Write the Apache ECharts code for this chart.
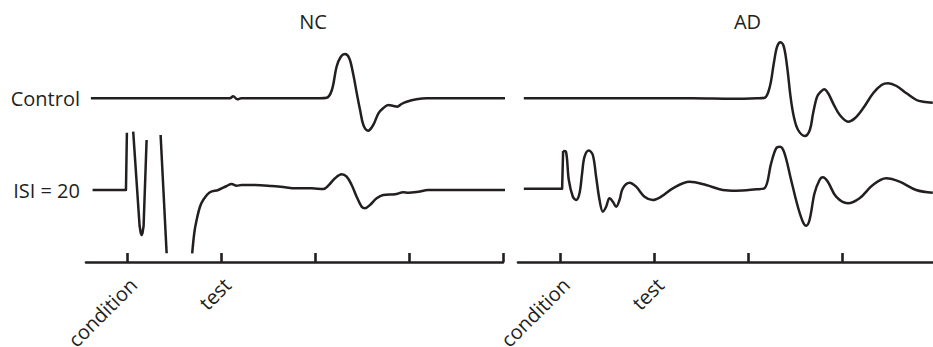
<!DOCTYPE html>
<html>
<head>
<meta charset="utf-8">
<script src="https://cdn.jsdelivr.net/npm/echarts@6/dist/echarts.min.js"></script>
<style>
html,body{margin:0;padding:0;background:#ffffff;}
#c{width:933px;height:347px;}
</style>
</head>
<body>
<div id="c"></div>
<script>
// ---- data (time in ms from conditioning stimulus, amplitude in arbitrary units) ----
const panelTitles = ['NC', 'AD'];
const rowLabels = ['Control', 'ISI = 20'];
const tickValues = [0, 20, 40, 60, 80];
const labelValues = [0, 20];
const tickLabels = ['condition', 'test'];

const ncControl = [[-7.66,0],[20.5,0],[21.9,0],[22.6,0.2],[23.5,-0.1],[24.3,0],[25.5,0],[41,0],[42.5,0.05],
  [43.6,0.83],[44.6,3.16],[45.5,4.16],[46.4,4.43],[47.3,4.0],[48.1,2.5],[48.9,0.5],[49.6,-1.17],[50.3,-2.67],
  [51.3,-3.24],[52.4,-2.67],[53.5,-1.5],[54.5,-1.0],[55.6,-0.67],[56.7,-0.77],[57.5,-0.84],[58.4,-0.57],
  [59.5,-0.34],[61.6,-0.1],[63.8,0],[66,0],[81.3,0]];

const ncIsiArtifact = [[-7.3,0],[-0.2,0],[0,5.73], null,
  [1.34,5.83],[2.7,-3.6],[2.95,-4.3],[3.13,-4.5],[3.32,-4.3],[3.55,-3.6],[4.19,5.0], null,
  [7.17,5.5],[8.45,-6.33]];

const ncIsi = [[13.89,-6.33],[14.36,-4.2],[14.83,-3.0],[15.53,-1.7],[16.23,-1.0],[17.66,-0.23],[19.43,0],
  [21.21,0.4],[22.28,0.6],[23.34,0.43],[24.4,0.5],[27.23,0.5],[30.79,0.4],[33.62,0.27],[35.74,0.17],[39.3,0.17],
  [41.77,0.1],[42.83,0.43],[44.26,1.17],[45.68,1.57],[46.74,1.33],[47.81,0.5],[48.87,-0.67],[49.94,-1.67],
  [50.64,-1.83],[51.7,-1.5],[53.13,-0.83],[54.53,-0.5],[57.02,-0.43],[58.79,-0.23],[59.85,-0.27],[61.98,-0.17],
  [64.1,0],[66.96,0],[81.64,0]];

const adControl = [[-7.66,0],[28.3,0],[36.8,-0.05],[42,0],[43.6,0.06],[44.68,1.16],[45.53,3.5],[46.23,5.16],
  [46.96,5.6],[47.66,5.16],[48.36,3.16],[49.09,0.16],[49.79,-1.84],[50.7,-3.17],[52.13,-3.77],[53.19,-3.17],
  [53.89,-1.5],[54.74,0.16],[55.53,0.66],[56.23,0.9],[57.09,0.5],[58.15,-0.5],[59.57,-1.67],[61.34,-2.34],
  [62.77,-2.0],[64.53,-1.0],[66.66,0.5],[68.45,1.33],[69.85,1.5],[71.64,1.23],[73.77,0.5],[75.89,-0.17],
  [77.3,-0.34],[79.36,-0.44]];

const adIsiArtifact = [[-7.66,0.13],[0.49,0.13],[0.7,3.9]];

const adIsi = [[0.7,3.9],[1.28,3.85],[1.91,1.0],[2.77,-0.67],[3.47,-1.0],[4.19,-0.33],[4.74,1.67],[5.26,3.33],
  [6.17,3.95],[7.02,3.5],[7.72,1.33],[8.45,-1.0],[9.15,-2.17],[9.85,-1.67],[10.57,-0.83],[11.28,-1.17],
  [11.98,-1.67],[12.7,-1.0],[13.4,0.17],[14.83,0.73],[16.23,0.33],[18.02,-0.67],[19.79,-1.0],[21.55,-0.67],
  [24.04,0.17],[27.6,0.83],[31.13,0.5],[34.68,0],[37.51,-0.07],[41.77,0.07],[43.55,0.17],[44.96,2.67],
  [46.02,4.17],[46.87,4.33],[47.81,3.67],[49.21,1.0],[50.64,-1.67],[51.7,-3.17],[52.4,-3.57],[53.13,-3.0],
  [54.19,-0.33],[55.26,1.0],[55.96,1.27],[57.02,0.83],[58.79,-0.67],[61.28,-1.33],[63.77,-0.83],[66.6,0.5],
  [69.43,1.17],[72.28,0.83],[75.81,0],[79.36,-0.27]];

// ---- layout / style ----
const INK = '#231f20';
const FONT = '"Open Sans", "Noto Sans", sans-serif';
const LW = 2.5;

const xRanges = [{min: -8.7, max: 80}, {min: -8.9, max: 79.4}];
const panelBox = [{left: 86, width: 417}, {left: 518, width: 415}];
const rowBox = [{top: 38.3, height: 120, min: -6, max: 6}, {top: 118, height: 144, min: -7.2, max: 7.2}];

const grids = [], xAxes = [], yAxes = [];
for (let p = 0; p < 2; p++) {
  for (let r = 0; r < 2; r++) {
    const gi = grids.length;
    grids.push({left: panelBox[p].left, width: panelBox[p].width, top: rowBox[r].top, height: rowBox[r].height,
      containLabel: false, outerBoundsMode: 'none'});
    const showX = r === 1;
    xAxes.push({
      gridIndex: gi, type: 'value', min: xRanges[p].min, max: xRanges[p].max,
      show: showX,
      axisLine: {show: showX, onZero: false, lineStyle: {color: INK, width: 2.6}},
      axisTick: {show: showX, inside: true, length: 9,
        customValues: tickValues.filter(v => v <= xRanges[p].max),
        lineStyle: {color: INK, width: 2.6}},
      axisLabel: {show: showX, customValues: labelValues, rotate: 45, margin: 13,
        verticalAlign: 'top', lineHeight: 18,
        formatter: v => tickLabels[labelValues.indexOf(v)] || '',
        fontSize: 20, fontFamily: FONT, color: INK},
      splitLine: {show: false}
    });
    const showY = p === 0;
    yAxes.push({
      gridIndex: gi, type: 'value', min: rowBox[r].min, max: rowBox[r].max,
      show: showY,
      axisLine: {show: false}, axisTick: {show: false}, splitLine: {show: false},
      axisLabel: {show: showY, customValues: [0], margin: 6, formatter: () => rowLabels[r],
        fontSize: 20, fontFamily: FONT, color: INK}
    });
  }
}

function segments(arr) {
  const out = []; let cur = [];
  arr.forEach(pt => { if (pt === null) { if (cur.length) out.push(cur); cur = []; } else cur.push(pt); });
  if (cur.length) out.push(cur);
  return out;
}

const traces = [
  {data: ncControl, grid: 0, smooth: true},
  {data: ncIsiArtifact, grid: 1, smooth: false},
  {data: ncIsi, grid: 1, smooth: true},
  {data: adControl, grid: 2, smooth: true},
  {data: adIsiArtifact, grid: 3, smooth: false},
  {data: adIsi, grid: 3, smooth: true}
];

const series = [];
traces.forEach(t => {
  segments(t.data).forEach(seg => {
    series.push({
      type: 'line', xAxisIndex: t.grid, yAxisIndex: t.grid, data: seg,
      showSymbol: false, symbol: 'none', smooth: t.smooth ? 0.35 : false, clip: false,
      lineStyle: {color: INK, width: LW, join: 'round', cap: 'butt'},
      silent: true, animation: false
    });
  });
});

const titleX = [313, 747.5];
const graphic = panelTitles.map((t, i) => ({
  type: 'text', x: titleX[i], y: 21,
  style: {text: t, fill: INK, font: '20px ' + FONT, align: 'center', verticalAlign: 'middle',
    textAlign: 'center', textVerticalAlign: 'middle'}
}));

const chart = echarts.init(document.getElementById('c'), null, {renderer: 'svg'});
chart.setOption({
  animation: false,
  backgroundColor: '#ffffff',
  grid: grids, xAxis: xAxes, yAxis: yAxes,
  series: series,
  graphic: graphic
});
</script>
</body>
</html>
